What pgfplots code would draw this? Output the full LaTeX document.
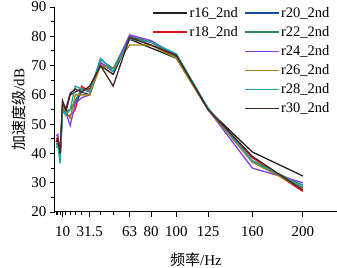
\documentclass[border=0pt]{standalone}
\usepackage{pgfplots}
\usepackage{pgfplotstable}
\pgfplotsset{compat=1.18}
\usepackage{fontspec}
\setmainfont{Liberation Serif}
\newfontfamily\cjk{Noto Sans CJK SC}
\definecolor{cBlack}{HTML}{202020}
\definecolor{cRed}{HTML}{E01A1A}
\definecolor{cBlue}{HTML}{1A4A9E}
\definecolor{cGreen}{HTML}{2A8A5C}
\definecolor{cPurple}{HTML}{8A3CE6}
\definecolor{cOlive}{HTML}{A08018}
\definecolor{cTeal}{HTML}{1FA3A3}
\definecolor{cBrown}{HTML}{4A2222}
\pgfplotstableread{
f r16 r18 r20 r22 r24 r26 r28 r30
5 44 45 44 43 46 44 42 44
6.3 45 45.5 45 44 46.5 45 43 45
8 40 39 38 38 38 39 36.5 40
10 57 57 56 55 56 56 55 58
12.5 54 53 54 54 54 54 53 55
16 60 53 55 55 49.5 52 55 60.5
20 61 55 57 58 57 60 63 62
25 62 63 61 62 59 60 62 61
31.5 62 61 60 61 60 60 61 63
40 70 71 71 72 71 70 72.5 70
50 67 68 68 69 68 69 68 63
63 79 80 80 80 80.5 77 79 79.5
80 76 77 78 78 78.5 77 78 77
100 72.5 73 73 73 73.5 72.5 74 73.5
125 55 55 55 55.5 55 55 55.5 55
160 40.5 38.5 37.5 37.3 35 37 37.5 39
200 32.3 27 28.4 29.2 30 28 28.6 27.5
}\data
\begin{document}
\begin{tikzpicture}
\begin{axis}[
  name=ax,
  scale only axis, width=282pt, height=205pt,
  xmin=4, xmax=227, ymin=20, ymax=90,
  axis lines*=left,
  axis line style={line width=1pt},
  font=\fontsize{15}{15}\selectfont,
  /pgf/number format/assume math mode=true,
  xtick={10,31.5,63,80,100,125,160,200},
  xticklabels={10,31.5,63,80,100,125,160,200},
  minor xtick={5,6.3,8,12.5,16,20,25,40,50},
  ytick={20,30,...,90},
  minor ytick={25,35,...,85},
  tick align=outside,
  major tick length=5pt, minor tick length=3.5pt,
  every tick/.style={line width=0.9pt, black},
  xticklabel style={yshift=-6pt},
  xlabel={{\cjk 频率}/Hz},
  ylabel={{\cjk 加速度级}/dB},
  xlabel style={yshift=-9pt},
  ylabel style={yshift=-1pt},
  legend columns=2,
  legend style={draw=none, fill=none, at={(0.99,1.02)}, anchor=north east,
    font=\fontsize{14.5}{14.5}\selectfont, row sep=3.6pt,
    /tikz/every even column/.append style={column sep=5pt},
    nodes={inner xsep=1.5pt}},
  legend image code/.code={\draw[line width=1.3pt,#1] (0pt,0pt) -- (34pt,0pt);},
  every axis plot/.append style={line width=1.3pt, forget plot},
]
\addplot[cBlack] table[x=f,y=r16]{\data};
\addplot[cRed] table[x=f,y=r18]{\data};
\addplot[cBlue] table[x=f,y=r20]{\data};
\addplot[cGreen] table[x=f,y=r22]{\data};
\addplot[cPurple] table[x=f,y=r24]{\data};
\addplot[cOlive] table[x=f,y=r26]{\data};
\addplot[cTeal] table[x=f,y=r28]{\data};
\addplot[cBrown] table[x=f,y=r30]{\data};
\addlegendimage{cBlack}\addlegendentry{r16\_2nd}
\addlegendimage{cBlue}\addlegendentry{r20\_2nd}
\addlegendimage{cRed}\addlegendentry{r18\_2nd}
\addlegendimage{cGreen}\addlegendentry{r22\_2nd}
\addlegendimage{empty legend}\addlegendentry{}
\addlegendimage{cPurple}\addlegendentry{r24\_2nd}
\addlegendimage{empty legend}\addlegendentry{}
\addlegendimage{cOlive}\addlegendentry{r26\_2nd}
\addlegendimage{empty legend}\addlegendentry{}
\addlegendimage{cTeal}\addlegendentry{r28\_2nd}
\addlegendimage{empty legend}\addlegendentry{}
\addlegendimage{cBrown}\addlegendentry{r30\_2nd}
\end{axis}
\pgfresetboundingbox
\useasboundingbox ([xshift=-55pt,yshift=-56pt]ax.south west) rectangle ([yshift=7pt]ax.north east);
\end{tikzpicture}
\end{document}
